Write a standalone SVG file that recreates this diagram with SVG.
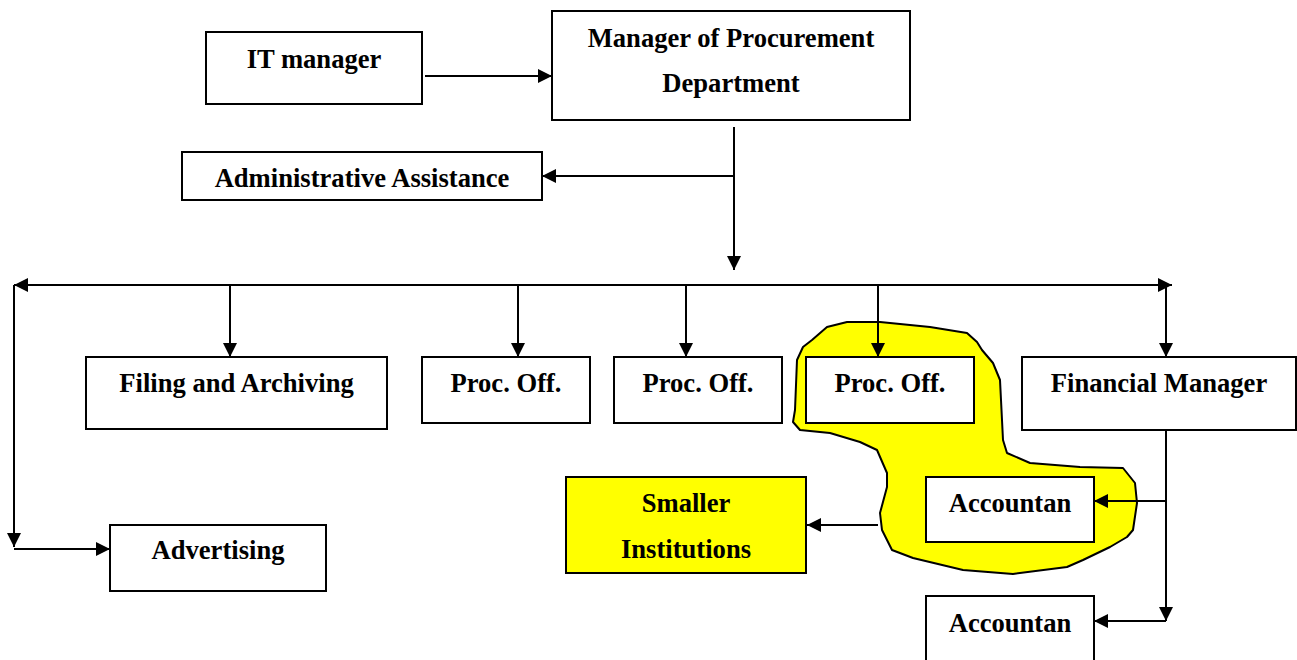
<svg xmlns="http://www.w3.org/2000/svg" width="1297" height="660" viewBox="0 0 1297 660">
<style>
.box{fill:#fff;stroke:#000;stroke-width:2}
.yel{fill:#ffff00;stroke:#000;stroke-width:2}
.t{font-family:"Liberation Serif","Times New Roman",serif;font-weight:bold;font-size:26.6px;fill:#000;text-anchor:middle}
.c{fill:none;stroke:#000;stroke-width:2}
</style>
<defs>
<marker id="ah" viewBox="0 0 14 14" markerWidth="14" markerHeight="14" refX="14" refY="7" orient="auto-start-reverse" markerUnits="userSpaceOnUse">
<path d="M0,0 L14,7 L0,14 z" fill="#000"/>
</marker>
</defs>
<rect width="1297" height="660" fill="#fff"/>
<path id="highlight" d="M797,360 L795,410 L793,422 L800,430 L830,433 L860,442 L877,450 L887,473 L887,487 L880,513 L882,530 L892,550 L913,558 L963,570 L1013,574 L1067,567 L1083,560 L1110,547 L1127,537 L1133,530 L1137,503 L1135,483 L1123,468 L1080,467 L1030,463 L1007,453 L1003,440 L1000,380 L993,363 L982,350 L977,342 L967,333 L930,327 L880,322 L847,322 L827,327 L812,340 L803,347 Z" fill="#ffff00" stroke="#000" stroke-width="2" stroke-linejoin="round"/>
<g id="connectors">
<path class="c" d="M425,76 H552" marker-end="url(#ah)"/>
<path class="c" d="M734,127 V270" marker-end="url(#ah)"/>
<path class="c" d="M734,176 H542" marker-end="url(#ah)"/>
<path class="c" d="M14,285 H1172" marker-start="url(#ah)" marker-end="url(#ah)"/>
<path class="c" d="M14,285 V547" marker-end="url(#ah)"/>
<path class="c" d="M14,549 H110" marker-end="url(#ah)"/>
<path class="c" d="M230,285 V357" marker-end="url(#ah)"/>
<path class="c" d="M518,285 V357" marker-end="url(#ah)"/>
<path class="c" d="M686,285 V357" marker-end="url(#ah)"/>
<path class="c" d="M878,285 V357" marker-end="url(#ah)"/>
<path class="c" d="M1166,285 V357" marker-end="url(#ah)"/>
<path class="c" d="M1166,430 V621" marker-end="url(#ah)"/>
<path class="c" d="M1166,501 H1094" marker-end="url(#ah)"/>
<path class="c" d="M1166,621 H1094" marker-end="url(#ah)"/>
<path class="c" d="M878,525 H807" marker-end="url(#ah)"/>
</g>
<g id="it-manager"><rect class="box" x="206" y="32" width="216" height="72"/><text class="t" x="314" y="68">IT manager</text></g>
<g id="manager"><rect class="box" x="552" y="11" width="358" height="109"/><text class="t" x="731" y="47">Manager of Procurement</text><text class="t" x="731" y="92">Department</text></g>
<g id="admin"><rect class="box" x="182" y="152" width="360" height="48"/><text class="t" x="362" y="187">Administrative Assistance</text></g>
<g id="filing"><rect class="box" x="86" y="357" width="301" height="72"/><text class="t" x="236.5" y="392">Filing and Archiving</text></g>
<g id="proc1"><rect class="box" x="422" y="357" width="168" height="66"/><text class="t" x="506" y="392">Proc. Off.</text></g>
<g id="proc2"><rect class="box" x="614" y="357" width="168" height="66"/><text class="t" x="698" y="392">Proc. Off.</text></g>
<g id="proc3"><rect class="box" x="806" y="357" width="168" height="66"/><text class="t" x="890" y="392">Proc. Off.</text></g>
<g id="financial"><rect class="box" x="1022" y="357" width="274" height="73"/><text class="t" x="1159" y="392">Financial Manager</text></g>
<g id="advertising"><rect class="box" x="110" y="525" width="216" height="66"/><text class="t" x="218" y="559">Advertising</text></g>
<g id="smaller"><rect class="yel" x="566" y="477" width="240" height="96"/><text class="t" x="686" y="512">Smaller</text><text class="t" x="686" y="558">Institutions</text></g>
<g id="accountant1"><rect class="box" x="926" y="477" width="168" height="65"/><text class="t" x="1010" y="512">Accountan</text></g>
<g id="accountant2"><rect class="box" x="926" y="596" width="168" height="80"/><text class="t" x="1010" y="632">Accountan</text></g>
</svg>
